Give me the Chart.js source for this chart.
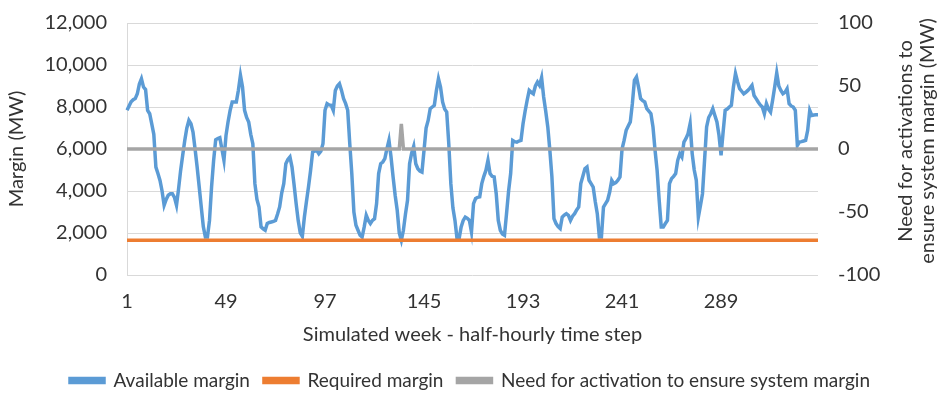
<!DOCTYPE html>
<html lang="en">
<head>
<meta charset="UTF-8">
<title>Margin - simulated week</title>
<style>
    body { margin: 0; background: #fff; }
    #chartBox { width: 940px; height: 397px; position: relative; }
</style>
</head>
<body>
<div id="chartBox">
    <canvas id="marginChart"></canvas>
</div>

<script src="https://cdn.jsdelivr.net/npm/chart.js"></script>
<script>
// half-hourly steps of the simulated week (1..336)
const steps = [];
for (let i = 1; i <= 336; i++) steps.push(String(i));
const tickSteps = [1, 49, 97, 145, 193, 241, 289];

// Available margin (MW)
const availableMargin = [
    7840, 8050, 8250, 8350, 8400, 8630, 9100, 9350, 8950, 8830, 7840, 7680,
    7200, 6700, 5140, 4830, 4500, 4000, 3320, 3600, 3800, 3870, 3870, 3700,
    3320, 4100, 4980, 5700, 6410, 7000, 7360, 7200, 6810, 6000, 5140, 4200,
    3240, 2300, 1810, 1810, 2600, 4200, 5460, 6440, 6500, 6540, 6000, 5460,
    6650, 7300, 7840, 8240, 8240, 8240, 8800, 9510, 8950, 7840, 7500, 7290,
    6700, 6250, 4350, 3600, 3240, 2290, 2200, 2130, 2450, 2500, 2525, 2550,
    2600, 2900, 3240, 3900, 4350, 5300, 5500, 5620, 5140, 4300, 3400, 2600,
    2000, 1840, 2760, 3500, 4200, 4980, 5860, 5900, 5940, 5780, 5900, 6250,
    7840, 8160, 8100, 8080, 7840, 8790, 9000, 9110, 8790, 8400, 8160, 7840,
    6250, 4800, 3000, 2370, 2130, 1900, 1810, 2290, 2840, 2600, 2450, 2600,
    2680, 3400, 4830, 5300, 5380, 5540, 6000, 6410, 5620, 4670, 3800, 3080,
    2000, 1650, 2130, 2900, 3560, 5300, 5800, 6130, 5300, 5060, 4950, 4900,
    5940, 7000, 7360, 7920, 8000, 8080, 8790, 9350, 8950, 8240, 7900, 7760,
    6250, 4350, 3200, 2600, 1730, 1730, 2290, 2600, 2760, 2700, 2600, 2050,
    3400, 3640, 3700, 3720, 4350, 4700, 4980, 5460, 4830, 4700, 4670, 3870,
    2600, 2130, 1950, 1890, 2920, 4000, 4830, 6410, 6350, 6330, 6380, 6410,
    7200, 7800, 8320, 8790, 8700, 8630, 9000, 9190, 9030, 9400, 8480, 7800,
    7050, 5940, 4670, 2680, 2450, 2300, 2210, 2760, 2850, 2920, 2840, 2600,
    2800, 2920, 3100, 3240, 4350, 4700, 5060, 5140, 4510, 4350, 4190, 3500,
    2920, 1810, 1810, 3240, 3400, 3560, 3950, 4510, 4350, 4400, 4510, 4670,
    6000, 6410, 6890, 7100, 7290, 8160, 9270, 9430, 8950, 8400, 8300, 8240,
    7920, 7800, 7680, 7050, 5940, 4980, 3560, 2290, 2290, 2450, 2600, 4350,
    4590, 4700, 4830, 5460, 5780, 5620, 6330, 6500, 6730, 7200, 5780, 5000,
    4510, 2760, 3300, 3870, 5460, 7050, 7500, 7680, 7920, 7600, 7290, 6650,
    5700, 6800, 7840, 7900, 8000, 8080, 8950, 9590, 9200, 8870, 8750, 8630,
    8700, 8790, 8900, 9030, 8550, 8400, 8240, 8100, 8000, 7680, 8160, 7900,
    7760, 8320, 8950, 9620, 9000, 8790, 8630, 8700, 8870, 8160, 8050, 8000,
    7840, 6170, 6330, 6350, 6380, 6410, 6890, 7840, 7600, 7620, 7630, 7630
];

// Required margin is flat through the week (MW)
const requiredLevel = 1650;
const requiredMargin = steps.map(() => requiredLevel);

// Need for activation (MW, right axis)
const needForActivation = [
    0, 0, 0, 0, 0, 0, 0, 0, 0, 0, 0, 0, 0, 0, 0, 0, 0, 0, 0, 0, 0, 0, 0, 0,
    0, 0, 0, 0, 0, 0, 0, 0, 0, 0, 0, 0, 0, 0, 0, 0, 0, 0, 0, 0, 0, 0, 0, 0,
    0, 0, 0, 0, 0, 0, 0, 0, 0, 0, 0, 0, 0, 0, 0, 0, 0, 0, 0, 0, 0, 0, 0, 0,
    0, 0, 0, 0, 0, 0, 0, 0, 0, 0, 0, 0, 0, 0, 0, 0, 0, 0, 0, 0, 0, 0, 0, 0,
    0, 0, 0, 0, 0, 0, 0, 0, 0, 0, 0, 0, 0, 0, 0, 0, 0, 0, 0, 0, 0, 0, 0, 0,
    0, 0, 0, 0, 0, 0, 0, 0, 0, 0, 0, 0, 0, 20, 0, 0, 0, 0, 0, 0, 0, 0, 0, 0,
    0, 0, 0, 0, 0, 0, 0, 0, 0, 0, 0, 0, 0, 0, 0, 0, 0, 0, 0, 0, 0, 0, 0, 0,
    0, 0, 0, 0, 0, 0, 0, 0, 0, 0, 0, 0, 0, 0, 0, 0, 0, 0, 0, 0, 0, 0, 0, 0,
    0, 0, 0, 0, 0, 0, 0, 0, 0, 0, 0, 0, 0, 0, 0, 0, 0, 0, 0, 0, 0, 0, 0, 0,
    0, 0, 0, 0, 0, 0, 0, 0, 0, 0, 0, 0, 0, 0, 0, 0, 0, 0, 0, 0, 0, 0, 0, 0,
    0, 0, 0, 0, 0, 0, 0, 0, 0, 0, 0, 0, 0, 0, 0, 0, 0, 0, 0, 0, 0, 0, 0, 0,
    0, 0, 0, 0, 0, 0, 0, 0, 0, 0, 0, 0, 0, 0, 0, 0, 0, 0, 0, 0, 0, 0, 0, 0,
    0, 0, 0, 0, 0, 0, 0, 0, 0, 0, 0, 0, 0, 0, 0, 0, 0, 0, 0, 0, 0, 0, 0, 0,
    0, 0, 0, 0, 0, 0, 0, 0, 0, 0, 0, 0, 0, 0, 0, 0, 0, 0, 0, 0, 0, 0, 0, 0
];

const rightTitle = ['Need for activations to', 'ensure system margin (MW)'];

const fontFamily = 'Lato, "Open Sans", sans-serif';
const fontSize = 20;
const textColor = '#333333';
const gridColor = '#D9D9D9';

// right axis title reads bottom-to-top like the left one
const rightTitlePlugin = {
    id: 'rightTitlePlugin',
    afterDraw(chart) {
        const ctx = chart.ctx;
        const area = chart.chartArea;
        ctx.save();
        ctx.fillStyle = textColor;
        ctx.font = fontSize + 'px ' + fontFamily;
        ctx.textAlign = 'center';
        ctx.textBaseline = 'middle';
        ctx.translate(chart.width - 23, (area.top + area.bottom) / 2 - 8);
        ctx.rotate(-Math.PI / 2);
        ctx.fillText(rightTitle[0], 0, -11);
        ctx.fillText(rightTitle[1], 0, 11);
        ctx.restore();
    }
};

// push legend row a little lower, like the original
const legendShift = {
    id: 'legendShift',
    afterInit(chart) {
        const legend = chart.legend;
        const fit = legend.fit;
        legend.fit = function () {
            fit.call(this);
            this.height = 40;
        };
    }
};

new Chart(document.getElementById('marginChart'), {
    type: 'line',
    data: {
        labels: steps,
        datasets: [{
            label: 'Available margin',
            data: availableMargin,
            borderColor: '#5B9BD5',
            backgroundColor: '#5B9BD5',
            borderWidth: 3.5,
            pointRadius: 0,
            tension: 0,
            yAxisID: 'y',
            order: 3
        }, {
            label: 'Required margin',
            data: requiredMargin,
            borderColor: '#ED7D31',
            backgroundColor: '#ED7D31',
            borderWidth: 3.5,
            pointRadius: 0,
            yAxisID: 'y',
            order: 2
        }, {
            label: 'Need for activation to ensure system margin',
            data: needForActivation,
            borderColor: '#A5A5A5',
            backgroundColor: '#A5A5A5',
            borderWidth: 3.5,
            pointRadius: 0,
            yAxisID: 'y1',
            order: 1
        }]
    },
    options: {
        responsive: true,
        maintainAspectRatio: false,
        animation: false,
        layout: { padding: { top: 23, left: 0, right: 0, bottom: 0 } },
        plugins: {
            legend: {
                position: 'bottom',
                labels: {
                    boxWidth: 34,
                    boxHeight: 4,
                    padding: 14,
                    color: textColor,
                    font: { family: fontFamily, size: 19 },
                    sort: (a, b) => a.datasetIndex - b.datasetIndex
                }
            },
            tooltip: { enabled: false }
        },
        scales: {
            x: {
                type: 'category',
                afterFit: (scale) => { scale.height = 82; },
                grid: {
                    drawTicks: false,
                    color: (c) => tickSteps.includes(c.index + 1) ? gridColor : 'rgba(0,0,0,0)'
                },
                border: { display: false },
                ticks: {
                    autoSkip: false,
                    maxRotation: 0,
                    padding: 15,
                    color: textColor,
                    font: { family: fontFamily, size: fontSize },
                    callback: (v, i) => tickSteps.includes(i + 1) ? steps[i] : null
                },
                title: {
                    display: true,
                    text: 'Simulated week - half-hourly time step',
                    color: textColor,
                    font: { family: fontFamily, size: fontSize },
                    padding: { top: 0, bottom: 10 }
                }
            },
            y: {
                position: 'left',
                min: 0,
                max: 12000,
                afterFit: (scale) => { scale.width = 127; scale.paddingTop = 8; },
                grid: { drawTicks: false, color: gridColor },
                border: { display: false },
                ticks: {
                    stepSize: 2000,
                    padding: 20,
                    color: textColor,
                    font: { family: fontFamily, size: fontSize },
                    callback: (v) => v.toLocaleString('en-US')
                },
                title: {
                    display: true,
                    text: 'Margin (MW)',
                    color: textColor,
                    font: { family: fontFamily, size: fontSize },
                    padding: { top: 5, bottom: 0 }
                }
            },
            y1: {
                position: 'right',
                min: -100,
                max: 100,
                afterFit: (scale) => { scale.width = 122; scale.paddingTop = 8; },
                grid: { display: false, drawTicks: false },
                border: { display: false },
                ticks: {
                    stepSize: 50,
                    padding: 20,
                    color: textColor,
                    font: { family: fontFamily, size: fontSize }
                }
            }
        }
    },
    plugins: [rightTitlePlugin, legendShift]
});
</script>
</body>
</html>
